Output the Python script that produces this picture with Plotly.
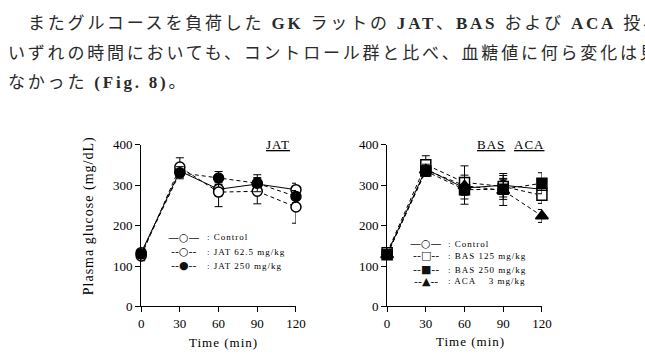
import plotly.graph_objects as go

W, H = 645, 363

# ---------------- data ----------------
time_min = [0, 30, 60, 90, 120]

# Left panel (JAT)
jat_control = [133, 335, 290, 303, 289]
jat_control_se = [10, 15, 16, 16, 16]
jat_62 = [125, 345, 283, 285, 246]
jat_62_se = [12, 23, 36, 31, 40]
jat_250 = [130, 331, 318, 305, 272]
jat_250_se = [10, 15, 16, 21, 15]

# Right panel (BAS / ACA)
ba_control = [130, 340, 293, 300, 290]
ba_control_se = [10, 15, 18, 29, 15]
bas_125 = [133, 351, 307, 297, 275]
bas_125_se = [10, 22, 41, 20, 20]
bas_250 = [128, 335, 289, 290, 305]
bas_250_se = [10, 13, 36, 25, 26]
aca_3 = [128, 338, 299, 287, 224]
aca_3_se = [10, 14, 20, 37, 16]

y_ticks = [0, 100, 200, 300, 400]
x_ticks = [0, 30, 60, 90, 120]

text_lines = [
    "またグルコースを負荷した <b>GK</b> ラットの <b>JAT</b>、<b>BAS</b> および <b>ACA</b> 投与",
    "いずれの時間においても、コントロール群と比べ、血糖値に何ら変化は見",
    "なかった <b>(Fig. 8)</b>。",
]

left_legend_names = ["Control", "JAT 62.5 mg/kg", "JAT 250 mg/kg"]
left_legend_marks = ["—○—", "--○--", "--●--"]
right_legend_names = ["Control", "BAS 125 mg/kg", "BAS 250 mg/kg", "ACA    3 mg/kg"]
right_legend_marks = ["—○—", "--□--", "--■--", "--▲--"]

SERIF = "Liberation Serif, Times New Roman, serif"
JP = "Liberation Serif, Noto Sans CJK JP, serif"
SYM = "DejaVu Sans, Liberation Serif"

fig = go.Figure()


def sp(t, ls=1):
    return f'<span style="letter-spacing:{ls}px">{t}</span>'


def add(x, y, se, name, symbol, fill, dash, xa, ya):
    fig.add_trace(go.Scatter(
        x=x, y=y, name=name, mode="lines+markers",
        xaxis=xa, yaxis=ya, showlegend=False, cliponaxis=False,
        line=dict(color="black", width=1, dash=dash),
        marker=dict(symbol=symbol, size=10 if symbol != "triangle-up" else 11,
                    color=fill, line=dict(color="black", width=1.5)),
        error_y=dict(type="data", array=se, visible=True, color="black",
                     thickness=1, width=4),
    ))


add(time_min, jat_control, jat_control_se, left_legend_names[0], "circle", "white", "solid", "x", "y")
add(time_min, jat_62, jat_62_se, left_legend_names[1], "circle", "white", "4px,3px", "x", "y")
add(time_min, jat_250, jat_250_se, left_legend_names[2], "circle", "black", "4px,3px", "x", "y")

add(time_min, ba_control, ba_control_se, right_legend_names[0], "circle", "white", "solid", "x2", "y2")
add(time_min, bas_125, bas_125_se, right_legend_names[1], "square", "white", "4px,3px", "x2", "y2")
add(time_min, bas_250, bas_250_se, right_legend_names[2], "square", "black", "4px,3px", "x2", "y2")
add(time_min, aca_3, aca_3_se, right_legend_names[3], "triangle-up", "black", "4px,3px", "x2", "y2")

xd1 = [141 / W, 299 / W]
xd2 = [392 / W, 550 / W]
yd = [(H - 312.3) / H, (H - 143.8) / H]

axis_common = dict(
    showline=True, linecolor="black", linewidth=1, ticks="outside", ticklen=5,
    tickcolor="black", tickwidth=1, showgrid=False, zeroline=False,
    tickfont=dict(family=SERIF, size=13, color="black"),
)

layout_axes = dict(
    xaxis=dict(domain=xd1, range=[0, 120], tickvals=x_ticks, anchor="y", **axis_common),
    yaxis=dict(domain=yd, range=[0, 400], tickvals=y_ticks, anchor="x", **axis_common),
    xaxis2=dict(domain=xd2, range=[0, 120], tickvals=x_ticks, anchor="y2", **axis_common),
    yaxis2=dict(domain=yd, range=[0, 400], tickvals=y_ticks, anchor="x2", **axis_common),
)

annotations = []


def ann(text, x, y, size, family=SERIF, xanchor="left", color="black", angle=0):
    annotations.append(dict(
        text=text, xref="paper", yref="paper", x=x / W, y=1 - y / H,
        xanchor=xanchor, yanchor="middle", showarrow=False, textangle=angle,
        font=dict(family=family, size=size, color=color),
    ))


# paragraph text
for t, yy, xx in zip(text_lines, [16.7, 49, 79], [23, 3, 3]):
    ann(sp(t, 2.8), xx, yy, 17, family=JP, color="#2a2a2a")

# panel labels
for label, xx in [("JAT", 281), ("BAS", 498), ("ACA", 537)]:
    ann(f'<span style="text-decoration:underline;letter-spacing:1px">{label}</span>',
        xx, 143, 13, xanchor="center")

# axis titles
ann(sp("Plasma glucose (mg/dL)", 1), 88, 218, 14, xanchor="center", angle=-90)
ann(sp("Time (min)", 1), 225, 350, 13, xanchor="center")
ann(sp("Time (min)", 1), 477, 349, 13, xanchor="center")

# legends (typed-symbol style as in the original figure)
for name, mark, yy in zip(left_legend_names, left_legend_marks, [240, 255.5, 270]):
    ann(mark, 185, yy, 11, family=SYM, xanchor="center", color="#111")
    ann(sp(": " + name, 1), 206, yy, 9)
for name, mark, yy in zip(right_legend_names, right_legend_marks, [247, 259.5, 274, 286]):
    ann(mark, 432, yy, 11, family=SYM, xanchor="center", color="#111")
    ann(sp(": " + name, 1), 452, yy, 9)

fig.update_layout(
    width=W, height=H, margin=dict(l=0, r=0, t=0, b=0),
    paper_bgcolor="white", plot_bgcolor="white",
    showlegend=False,
    annotations=annotations,
    **layout_axes,
)

fig.write_html("out.html")
